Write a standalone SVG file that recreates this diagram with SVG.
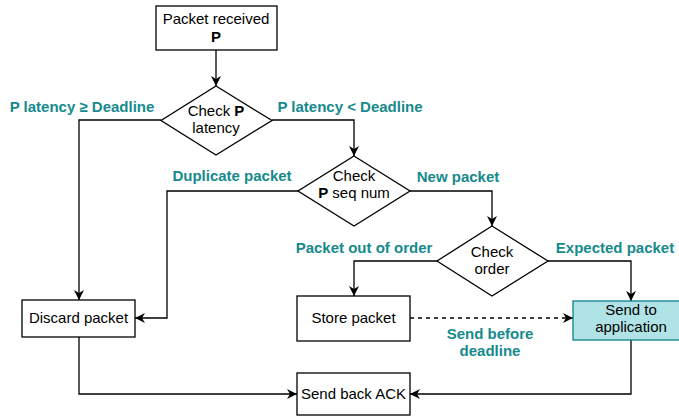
<svg xmlns="http://www.w3.org/2000/svg" width="679" height="417" viewBox="0 0 679 417">
<style>
.box{fill:#fff;stroke:#000;stroke-width:1.3}
.app{fill:#b0e3e6;stroke:#0e8088;stroke-width:1.3}
.t{font-family:"Liberation Sans",Arial,sans-serif;font-size:15px;fill:#000;text-anchor:middle}
.b{font-weight:bold}
.lbl{font-family:"Liberation Sans",Arial,sans-serif;font-size:15px;font-weight:bold;fill:#168a8c;text-anchor:middle}
.c{fill:none;stroke:#000;stroke-width:1.3}
.d{stroke-dasharray:4 4}
</style>
<defs>
<marker id="ah" viewBox="0 0 10 10" refX="10" refY="5" markerWidth="10" markerHeight="10" markerUnits="userSpaceOnUse" orient="auto">
<path d="M0,0 L10,5 L0,10 L3,5 z" fill="#000"/>
</marker>
</defs>
<g id="connectors">
<path class="c" d="M216,50 V86" marker-end="url(#ah)"/>
<path class="c" d="M161,120 H79 V300" marker-end="url(#ah)"/>
<path class="c" d="M272,120 H354 V156" marker-end="url(#ah)"/>
<path class="c" d="M298,191 H167 V318 H135" marker-end="url(#ah)"/>
<path class="c" d="M410,191 H492 V226" marker-end="url(#ah)"/>
<path class="c" d="M437,261 H354 V296" marker-end="url(#ah)"/>
<path class="c" d="M548,261 H631 V301" marker-end="url(#ah)"/>
<path class="c d" d="M410,318 H573" marker-end="url(#ah)"/>
<path class="c" d="M79,337 V394 H297" marker-end="url(#ah)"/>
<path class="c" d="M631,340 V394 H410" marker-end="url(#ah)"/>
<text class="lbl" x="82" y="112">P latency ≥ Deadline</text>
<text class="lbl" x="350" y="112">P latency &lt; Deadline</text>
<text class="lbl" x="232" y="181">Duplicate packet</text>
<text class="lbl" x="458" y="182">New packet</text>
<text class="lbl" x="364" y="253">Packet out of order</text>
<text class="lbl" x="615" y="253">Expected packet</text>
<text class="lbl" x="490" y="339">Send before</text>
<text class="lbl" x="490" y="356">deadline</text>
</g>
<g id="received">
<rect class="box" x="156" y="6" width="121" height="44"/>
<text class="t" x="216" y="24">Packet received</text>
<text class="t b" x="216" y="42">P</text>
</g>
<g id="check-latency">
<polygon class="box" points="216,86 272,120.5 216,155 161,120.5"/>
<text class="t" x="216" y="116">Check <tspan class="b">P</tspan></text>
<text class="t" x="216" y="133">latency</text>
</g>
<g id="check-seq">
<polygon class="box" points="354,156 410,191 354,226 298,191"/>
<text class="t" x="354" y="181">Check</text>
<text class="t" x="354" y="198"><tspan class="b">P</tspan> seq num</text>
</g>
<g id="check-order">
<polygon class="box" points="492,226 548,261 492,296 437,261"/>
<text class="t" x="492" y="257">Check</text>
<text class="t" x="492" y="274">order</text>
</g>
<g id="discard">
<rect class="box" x="22" y="300" width="113" height="37"/>
<text class="t" x="78.5" y="323">Discard packet</text>
</g>
<g id="store">
<rect class="box" x="297" y="296" width="113" height="45"/>
<text class="t" x="353.5" y="323">Store packet</text>
</g>
<g id="send-app">
<rect class="app" x="573" y="301" width="118" height="39"/>
<text class="t" x="631" y="315">Send to</text>
<text class="t" x="631" y="332">application</text>
</g>
<g id="ack">
<rect class="box" x="297" y="373" width="113" height="42"/>
<text class="t" x="353.5" y="399">Send back ACK</text>
</g>
</svg>
